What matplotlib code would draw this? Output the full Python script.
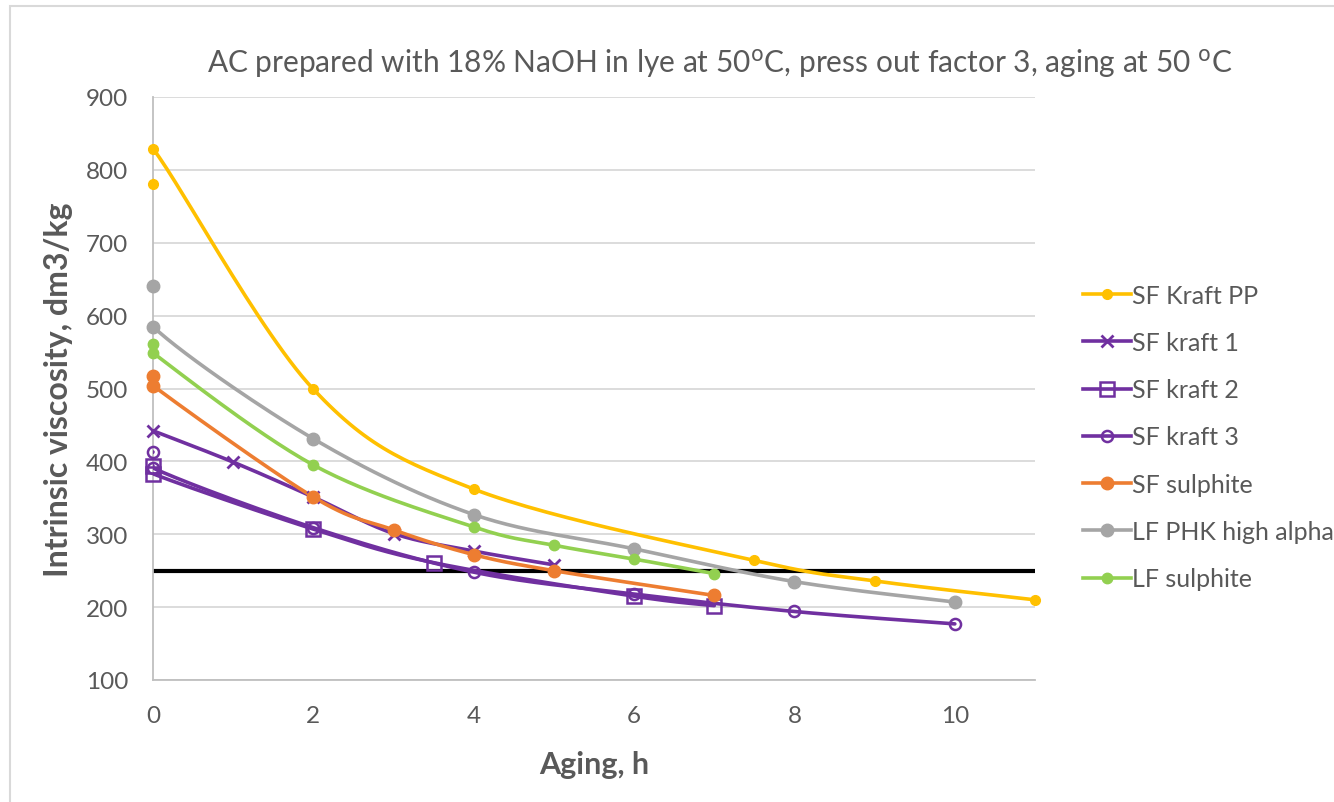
import matplotlib.pyplot as plt
import numpy as np
from matplotlib.lines import Line2D
from matplotlib.patches import Rectangle

plt.rcParams['font.family'] = ['Lato', 'DejaVu Sans']

# data (Aging in h, intrinsic viscosity in dm3/kg)
kraft_pp_x = [0, 0, 2, 4, 7.5, 9, 11]
kraft_pp_y = [780, 829, 499, 362, 264, 236, 210]

kraft1_x = [0, 1, 2, 3, 4, 5]
kraft1_y = [442, 399, 351, 301, 277, 258]

kraft2_x = [0, 0, 2, 3.5, 6, 7]
kraft2_y = [394, 383, 307, 261, 215, 202]

kraft3_x = [0, 0, 2, 4, 6, 8, 10]
kraft3_y = [413, 391, 309, 248, 218, 194, 177]

sulphite_x = [0, 0, 2, 3, 4, 5, 7]
sulphite_y = [517, 504, 351, 306, 272, 250, 216]

phk_x = [0, 0, 2, 4, 6, 8, 10]
phk_y = [641, 585, 431, 327, 280, 235, 207]

lf_sulphite_x = [0, 0, 2, 4, 5, 6, 7]
lf_sulphite_y = [561, 549, 395, 310, 285, 266, 246]

limit_x = [0, 11]
limit_y = [250, 250]

labels = ['SF Kraft PP', 'SF kraft 1', 'SF kraft 2', 'SF kraft 3',
          'SF sulphite', 'LF PHK high alpha', 'LF sulphite']

TXT = '#595959'


def smooth(x, y, n=30):
    # excel style smoothed line (catmull-rom bezier)
    p = np.column_stack([x, y]).astype(float)
    pts = [p[0]]
    for i in range(len(p) - 1):
        p0 = p[i - 1] if i > 0 else p[i]
        p1 = p[i]
        p2 = p[i + 1]
        p3 = p[i + 2] if i + 2 < len(p) else p[i + 1]
        c1 = p1 + (p2 - p0) / 6
        c2 = p2 - (p3 - p1) / 6
        t = np.linspace(0, 1, n)[1:, None]
        seg = ((1 - t) ** 3 * p1 + 3 * (1 - t) ** 2 * t * c1
               + 3 * (1 - t) * t ** 2 * c2 + t ** 3 * p2)
        pts.extend(seg)
    pts = np.array(pts)
    return pts[:, 0], pts[:, 1]


fig = plt.figure(figsize=(13.34, 8.03), dpi=100)
ax = fig.add_axes([153 / 1334, 1 - 681 / 803, (1035 - 153) / 1334, (681 - 98) / 803])

fig.patches.append(Rectangle((10 / 1334, -0.1), 2, 1.1 - 7 / 803, transform=fig.transFigure,
                             fill=False, edgecolor='#D9D9D9', lw=1.5, zorder=0))

ax.plot(limit_x, limit_y, color='black', lw=3, zorder=2)

series = [
    (kraft_pp_x, kraft_pp_y, '#FFC000', dict(marker='o', ms=7, mfc='#FFC000', mec='#FFC000')),
    (kraft1_x, kraft1_y, '#7030A0', dict(marker='x', ms=8, mew=2, mec='#7030A0')),
    (kraft2_x, kraft2_y, '#7030A0', dict(marker='s', ms=10, mew=1.8, mfc='none', mec='#7030A0')),
    (kraft3_x, kraft3_y, '#7030A0', dict(marker='o', ms=8, mew=1.8, mfc='none', mec='#7030A0')),
    (sulphite_x, sulphite_y, '#ED7D31', dict(marker='o', ms=9, mfc='#ED7D31', mec='#ED7D31')),
    (phk_x, phk_y, '#A5A5A5', dict(marker='o', ms=9, mfc='#A5A5A5', mec='#A5A5A5')),
    (lf_sulphite_x, lf_sulphite_y, '#92D050', dict(marker='o', ms=7.5, mfc='#92D050', mec='#92D050')),
]

handles = []
for (x, y, color, mk), label in zip(series, labels):
    sx, sy = smooth(x, y)
    ax.plot(sx, sy, color=color, lw=2.6, solid_capstyle='round', zorder=3)
    ax.plot(x, y, linestyle='none', clip_on=False, zorder=4, **mk)
    handles.append(Line2D([], [], color=color, lw=2.6, label=label, **mk))

ax.set_xlim(0, 11)
ax.set_ylim(100, 900)
ax.set_xticks([0, 2, 4, 6, 8, 10])
ax.set_yticks(np.arange(100, 901, 100))
ax.grid(axis='y', color='#D9D9D9', lw=1.3)
ax.set_axisbelow(True)
for s in ['top', 'right']:
    ax.spines[s].set_visible(False)
for s in ['left', 'bottom']:
    ax.spines[s].set_color('#BFBFBF')
    ax.spines[s].set_linewidth(1.3)
ax.tick_params(length=0, labelsize=17.5, labelcolor=TXT, pad=18)

ax.set_xlabel('Aging, h', fontsize=22, fontweight='bold', color=TXT, labelpad=17)
ax.set_ylabel('Intrinsic viscosity, dm3/kg', fontsize=23, fontweight='bold', color=TXT, labelpad=9)

fig.text(720 / 1334, 1 - 64 / 803,
         'AC prepared with 18% NaOH in lye at 50$^{\\mathrm{o}}$C, press out factor 3, aging at 50 $^{\\mathrm{o}}$C',
         ha='center', va='center', fontsize=21.5, color=TXT)

leg = fig.legend(handles=handles, loc='center left', bbox_to_anchor=(1083 / 1334, 1 - 438 / 803),
                 frameon=False, fontsize=18, labelcolor=TXT, handlelength=1.9,
                 handletextpad=0.08, labelspacing=0.97, borderaxespad=0, borderpad=0)

fig.savefig('out.png', dpi=100)
